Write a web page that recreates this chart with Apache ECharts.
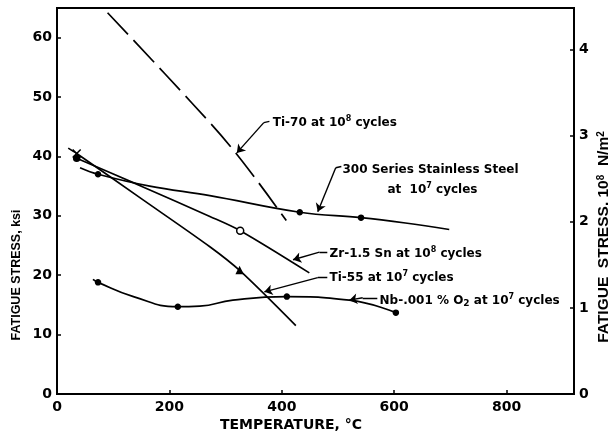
<!DOCTYPE html>
<html>
<head>
<meta charset="utf-8">
<script src="https://cdn.jsdelivr.net/npm/echarts@6/dist/echarts.min.js"></script>
<style>
  html, body { margin: 0; padding: 0; background: #fff; }
  #chart { width: 608px; height: 436px; }
</style>
</head>
<body>
<div id="chart"></div>
<script>
// Fatigue stress (ksi) of several alloys versus temperature (°C)
const ti70Temp = [90, 240, 318, 408];
const ti70Stress = [64.2, 49.0, 40.6, 29.2];

const steelTemp = [41, 73, 165, 272, 432, 541, 620, 698];
const steelStress = [38.1, 37.0, 35.0, 33.4, 30.6, 29.7, 28.8, 27.7];
const steelMarkTemp = [73, 432, 541];
const steelMarkStress = [37.0, 30.6, 29.7];

const zrTemp = [35, 150, 272, 326, 449];
const zrStress = [39.7, 35.0, 29.9, 27.5, 20.4];
const zrMarkTemp = [35];
const zrMarkStress = [39.7];
const zrOpenTemp = [326];
const zrOpenStress = [27.5];

const ti55Temp = [20, 35, 150, 272, 325, 425];
const ti55Stress = [41.4, 40.5, 32.9, 24.8, 20.8, 11.5];
const ti55MarkTemp = [325];
const ti55MarkStress = [20.8];
const ti55CrossTemp = [35];
const ti55CrossStress = [40.5];

const nbTemp = [64, 73, 136, 215, 254, 313, 409, 520, 603];
const nbStress = [19.3, 18.8, 16.4, 14.7, 14.8, 15.8, 16.4, 15.8, 13.7];
const nbMarkTemp = [73, 215, 409, 603];
const nbMarkStress = [18.8, 14.7, 16.4, 13.7];

// axis ticks
const tempTicks = [0, 200, 400, 600, 800];
const ksiTicks = [0, 10, 20, 30, 40, 50, 60];
const mpaTicks = [0, 1, 2, 3, 4];
const KSI_PER_1E8 = 14.5038;   // 10^8 N/m^2 expressed in ksi

// curve labels: text, anchor, and leader (stub + arrow) in data space
const noteText = [
  'Ti-70 at 10{s|8} cycles',
  '300 Series Stainless Steel',
  'at  10{s|7} cycles',
  'Zr-1.5 Sn at 10{s|8} cycles',
  'Ti-55 at 10{s|7} cycles',
  'Nb-.001 % O{b|2} at 10{s|7} cycles'
];
const noteAt = [[384, 45.7], [508, 37.8], [588, 34.4], [485, 23.6], [485, 19.6], [574, 15.7]];
const leaderStub = [
  [[378, 45.9], [368, 45.7]],
  [[506, 38.3], [496, 38.1]],
  [[481, 23.9], [467, 23.9]],
  [[481, 19.6], [464, 19.6]],
  [[570, 16.2], [544, 16.2]]
];
const leaderArrow = [
  [[368, 45.7], [320, 40.6]],
  [[496, 38.1], [464, 30.7]],
  [[467, 23.9], [420, 22.6]],
  [[464, 19.6], [369, 17.2]],
  [[544, 16.2], [520, 15.8]]
];

const pairs = (xs, ys) => xs.map((x, i) => [x, ys[i]]);

const INK = '#000';
const tickFont = { fontFamily: 'DejaVu Sans', fontWeight: 'bold', fontSize: 14, color: INK };
const noteFont = 'DejaVu Sans';

function curve(name, xs, ys, extra) {
  return Object.assign({
    name, type: 'line', data: pairs(xs, ys), smooth: 0.4,
    symbol: 'none', lineStyle: { color: INK, width: 1.7 }, z: 3, silent: true
  }, extra || {});
}
function marks(xs, ys, symbol, size, fill) {
  return {
    type: 'scatter', data: pairs(xs, ys), symbol, symbolSize: size, z: 4, silent: true,
    itemStyle: { color: fill || INK, borderColor: INK, borderWidth: 1.5, opacity: 1 }
  };
}

const chart = echarts.init(document.getElementById('chart'), null, { renderer: 'canvas' });

chart.setOption({
  animation: false,
  backgroundColor: '#fff',
  grid: { left: 57, right: 34, top: 8, bottom: 42, show: true, borderColor: INK, borderWidth: 2 },
  xAxis: {
    type: 'value', min: 0, max: 920, interval: 200,
    axisLine: { show: true, lineStyle: { color: INK, width: 2 } },
    axisTick: { show: true, inside: true, length: 4, lineStyle: { color: INK, width: 1.5 } },
    splitLine: { show: false },
    axisLabel: Object.assign({ margin: 6, showMaxLabel: false,
      formatter: v => tempTicks.includes(v) ? String(v) : '' }, tickFont)
  },
  yAxis: [
    {
      type: 'value', min: 0, max: 65, interval: 10,
      axisLine: { show: true, lineStyle: { color: INK, width: 2 } },
      axisTick: { show: true, inside: true, length: 4, lineStyle: { color: INK, width: 1.5 } },
      splitLine: { show: false },
      axisLabel: Object.assign({ margin: 5, showMaxLabel: false,
        formatter: v => ksiTicks.includes(v) ? String(v) : '' }, tickFont)
    },
    {
      type: 'value', position: 'right', min: 0, max: 65 / KSI_PER_1E8, interval: 1,
      axisLine: { show: true, lineStyle: { color: INK, width: 2 } },
      axisTick: { show: true, inside: true, length: 4, lineStyle: { color: INK, width: 1.5 } },
      splitLine: { show: false },
      axisLabel: Object.assign({ margin: 5, showMaxLabel: false,
        formatter: v => mpaTicks.includes(v) ? String(v) : '' }, tickFont)
    }
  ],
  series: [
    curve('Ti-70', ti70Temp, ti70Stress, { lineStyle: { color: INK, width: 1.7, type: [30, 8] } }),
    curve('300 Series Stainless Steel', steelTemp, steelStress),
    curve('Zr-1.5 Sn', zrTemp, zrStress, { smooth: 0.3 }),
    curve('Ti-55', ti55Temp, ti55Stress, { smooth: 0.3 }),
    curve('Nb-.001 % O2', nbTemp, nbStress, { smooth: 0.5 }),
    marks(steelMarkTemp, steelMarkStress, 'circle', 5),
    marks(zrMarkTemp, zrMarkStress, 'circle', 6),
    marks(zrOpenTemp, zrOpenStress, 'circle', 7, '#fff'),
    marks(ti55MarkTemp, ti55MarkStress, 'triangle', 6),
    marks(ti55CrossTemp, ti55CrossStress, 'path://M0,0L10,10M10,0L0,10', 8),
    marks(nbMarkTemp, nbMarkStress, 'circle', 5),
    {
      type: 'lines', coordinateSystem: 'cartesian2d', silent: true, z: 5,
      symbol: ['none', 'none'],
      lineStyle: { color: INK, width: 1.4, opacity: 1, curveness: 0 },
      data: leaderStub.map(c => ({ coords: c }))
    },
    {
      type: 'lines', coordinateSystem: 'cartesian2d', silent: true, z: 5,
      symbol: ['none', 'arrow'], symbolSize: [5, 8],
      lineStyle: { color: INK, width: 1.4, opacity: 1, curveness: 0 },
      data: leaderArrow.map(c => ({ coords: c }))
    },
    {
      type: 'scatter', silent: true, z: 6, symbolSize: 0,
      itemStyle: { opacity: 1 },
      data: noteAt.map((p, i) => ({ value: p, text: noteText[i] })),
      label: {
        show: true, position: 'right', distance: 0,
        formatter: p => p.data.text,
        fontFamily: noteFont, fontWeight: 'bold', fontSize: 12, color: INK, lineHeight: 15,
        rich: {
          s: { fontFamily: noteFont, fontWeight: 'bold', fontSize: 8, color: INK,
               verticalAlign: 'top', lineHeight: 8, padding: [0, 0, 7, 0] },
          b: { fontFamily: noteFont, fontWeight: 'bold', fontSize: 9, color: INK,
               verticalAlign: 'bottom', lineHeight: 9, padding: [9, 0, 0, 0] }
        }
      }
    }
  ],
  graphic: [
    {
      type: 'text', x: 17, y: 275, rotation: Math.PI / 2, silent: true,
      style: { text: 'FATIGUE STRESS, ksi', fill: INK, align: 'center', verticalAlign: 'middle',
               font: 'bold 12.5px "Liberation Sans Narrow", "Liberation Sans", sans-serif' }
    },
    {
      type: 'text', x: 291, y: 425, silent: true,
      style: { text: 'TEMPERATURE, °C', fill: INK, align: 'center', verticalAlign: 'middle',
               font: 'bold 14px "DejaVu Sans", sans-serif' }
    },
    {
      type: 'text', x: 604, y: 237, rotation: Math.PI / 2, silent: true,
      style: {
        text: 'FATIGUE  STRESS, 10{s|8}  N/m{s|2}', fill: INK, align: 'center', verticalAlign: 'middle',
        font: 'bold 15.5px "Liberation Sans Narrow", "Liberation Sans", sans-serif',
        rich: {
          s: { font: 'bold 10px "Liberation Sans", sans-serif', fill: INK,
               verticalAlign: 'top', lineHeight: 10, padding: [0, 0, 7, 0] }
        }
      }
    }
  ]
});
</script>
</body>
</html>
